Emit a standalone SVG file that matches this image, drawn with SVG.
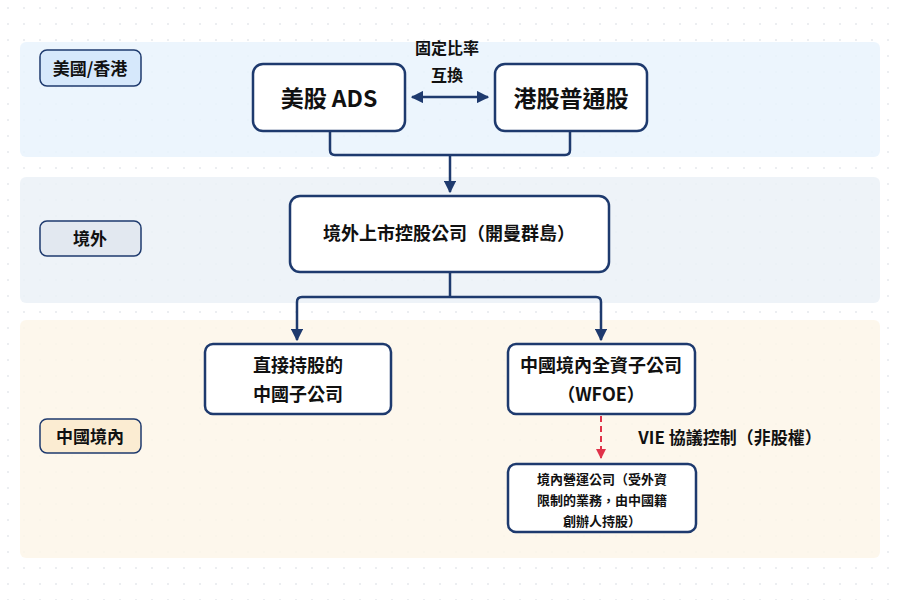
<svg xmlns="http://www.w3.org/2000/svg" width="900" height="600" viewBox="0 0 900 600">
<style>
text{font-family:"Noto Sans CJK TC","Noto Sans CJK SC",sans-serif;fill:#111;text-anchor:middle;font-weight:bold}
.node{fill:#fff;stroke:#1e3a6e;stroke-width:2.5}
.lab{stroke:#1e3a6e;stroke-width:1.5}
.c{fill:none;stroke:#1e3a6e;stroke-width:2.5}
</style>
<defs>
<pattern id="dots" width="16" height="16" patternUnits="userSpaceOnUse"><circle cx="8" cy="8" r="0.8" fill="#d4d9e0"/></pattern>
<marker id="ah" viewBox="0 0 10 10" refX="9" refY="5" markerWidth="5" markerHeight="5" orient="auto-start-reverse"><path d="M0,0L10,5L0,10z" fill="#1e3a6e"/></marker>
<marker id="ar" viewBox="0 0 10 10" refX="9" refY="5" markerWidth="5" markerHeight="5" orient="auto"><path d="M0,0L10,5L0,10z" fill="#e0334a"/></marker>
</defs>
<rect width="900" height="600" fill="#fff"/>
<rect width="900" height="600" fill="url(#dots)"/>
<rect x="20" y="42" width="860" height="115" rx="6" fill="#e9f3fd" opacity="0.85"/>
<rect x="20" y="177" width="860" height="126" rx="6" fill="#ebf1f7" opacity="0.85"/>
<rect x="20" y="320" width="860" height="238" rx="6" fill="#fdf6e9" opacity="0.85"/>
<g id="lane1"><rect class="lab" x="40" y="50" width="101" height="36" rx="7" fill="#d6e8fb"/><text x="90" y="75" font-size="17">美國/香港</text></g>
<g id="lane2"><rect class="lab" x="40" y="221" width="101" height="35" rx="7" fill="#e2e8f0"/><text x="90" y="245" font-size="17">境外</text></g>
<g id="lane3"><rect class="lab" x="40" y="419" width="101" height="34" rx="7" fill="#fbecd2"/><text x="90" y="443" font-size="17">中國境內</text></g>
<g id="connectors">
<path class="c" d="M330,131V150Q330,155 335,155H565Q570,155 570,150V131"/>
<path class="c" d="M450,155V192" marker-end="url(#ah)"/>
<path class="c" d="M412,97H488" marker-start="url(#ah)" marker-end="url(#ah)"/>
<path class="c" d="M450,272V297"/>
<path class="c" d="M450,297H302Q297,297 297,302V340" marker-end="url(#ah)"/>
<path class="c" d="M450,297H596Q601,297 601,302V340" marker-end="url(#ah)"/>
<path d="M601,416V458" fill="none" stroke="#e0334a" stroke-width="2" stroke-dasharray="6,4" marker-end="url(#ar)"/>
<text x="447" y="54" font-size="16">固定比率</text>
<text x="447" y="81" font-size="16">互換</text>
<text x="730" y="444" font-size="17">VIE 協議控制（非股權）</text>
</g>
<g id="ads"><rect class="node" x="253" y="64" width="152" height="67" rx="10"/><text x="329" y="107" font-size="23">美股 ADS</text></g>
<g id="hk"><rect class="node" x="495" y="64" width="152" height="67" rx="10"/><text x="571" y="107" font-size="23">港股普通股</text></g>
<g id="cayman"><rect class="node" x="290" y="196" width="319" height="76" rx="10"/><text x="449" y="240" font-size="18">境外上市控股公司（開曼群島）</text></g>
<g id="sub"><rect class="node" x="205" y="344" width="186" height="70" rx="8"/><text x="298" y="372" font-size="18">直接持股的</text><text x="298" y="401" font-size="18">中國子公司</text></g>
<g id="wfoe"><rect class="node" x="508" y="344" width="187" height="70" rx="8"/><text x="601" y="372" font-size="18">中國境內全資子公司</text><text x="601" y="401" font-size="18">（WFOE）</text></g>
<g id="op"><rect class="node" x="508" y="464" width="188" height="68" rx="8"/><text x="602" y="484" font-size="13">境內營運公司（受外資</text><text x="602" y="505" font-size="13">限制的業務，由中國籍</text><text x="602" y="526" font-size="13">創辦人持股）</text></g>
</svg>
